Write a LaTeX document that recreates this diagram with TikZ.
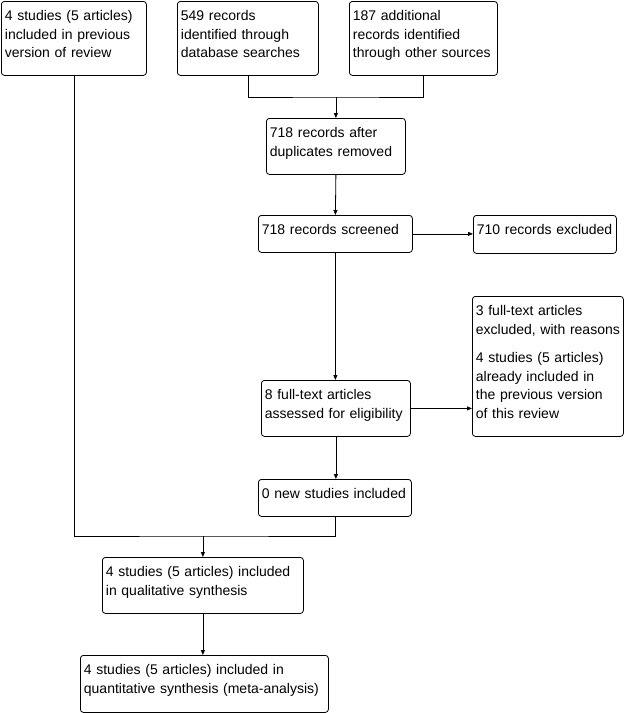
\documentclass[tikz,border=0pt]{standalone}
\usepackage{fontspec}
\setmainfont{Liberation Sans}
\usetikzlibrary{arrows.meta}
\tikzset{
  box/.style={draw, line width=0.8pt, rounded corners=3pt, anchor=north west, align=left, inner xsep=3.5pt, inner ysep=5pt, text height=14.5pt, font=\fontsize{14}{18.5}\selectfont},
  link/.style={line width=0.8pt, draw=black},
  flow/.style={-{Triangle[length=5pt, width=4pt]}, line width=0.8pt, draw=black}
}
\begin{document}
\begin{tikzpicture}[x=1pt, y=-1pt]
  \useasboundingbox (0,0) rectangle (624,713);

  % identification
  \node[box, text width=138pt, text depth=49.5pt] (prev) at (1,1) {4 studies (5 articles)\\included in previous\\version of review};
  \node[box, text width=134pt, text depth=49.5pt] (db) at (177,1) {549 records\\identified through\\database searches};
  \node[box, text width=141pt, text depth=49.5pt] (other) at (349,1) {187 additional\\records identified\\through other sources};
  \node[box, text width=132pt, text depth=31.5pt] (dedup) at (266,118) {718 records after\\duplicates removed};

  % screening and eligibility
  \node[box, text width=147pt, text depth=12.5pt] (screened) at (258,215) {718 records screened};
  \node[box, text width=136pt, text depth=13.5pt] (excl) at (473,215) {710 records excluded};
  \node[box, text width=144pt, text depth=115.5pt] (ftexcl) at (472,296) {3 full-text articles\\excluded, with reasons\\[10pt]4 studies (5 articles)\\already included in\\the previous version\\of this review};
  \node[box, text width=142pt, text depth=31.5pt] (elig) at (261,380) {8 full-text articles\\assessed for eligibility};
  \node[box, text width=146pt, text depth=12.5pt] (newinc) at (258,479) {0 new studies included};

  % included
  \node[box, text width=194pt, text depth=31.5pt] (qual) at (102,557) {4 studies (5 articles) included\\in qualitative synthesis};
  \node[box, text width=241pt, text depth=32.5pt] (quant) at (80,655) {4 studies (5 articles) included in\\quantitative synthesis (meta-analysis)};

  \coordinate (topjoin) at (dedup.north |- 0,97);
  \coordinate (lowjoin) at (qual.north |- 0,536);

  \draw[link] (db.south) |- (topjoin) -| (other.south);
  \draw[flow] (topjoin) -- (dedup.north);
  \draw[flow] (dedup.south) -- (screened.north);
  \draw[flow] (screened.east) -- (excl.west |- screened.east);
  \draw[flow] (screened.south) -- (elig.north -| screened.south);
  \draw[flow] (elig.east) -- (ftexcl.west |- elig.east);
  \draw[flow] (elig.south) -- (newinc.north -| elig.south);
  \draw[link] (prev.south) |- (lowjoin) -| (newinc.south);
  \draw[flow] (lowjoin) -- (qual.north);
  \draw[flow] (qual.south) -- (quant.north -| qual.south);
\end{tikzpicture}
\end{document}
